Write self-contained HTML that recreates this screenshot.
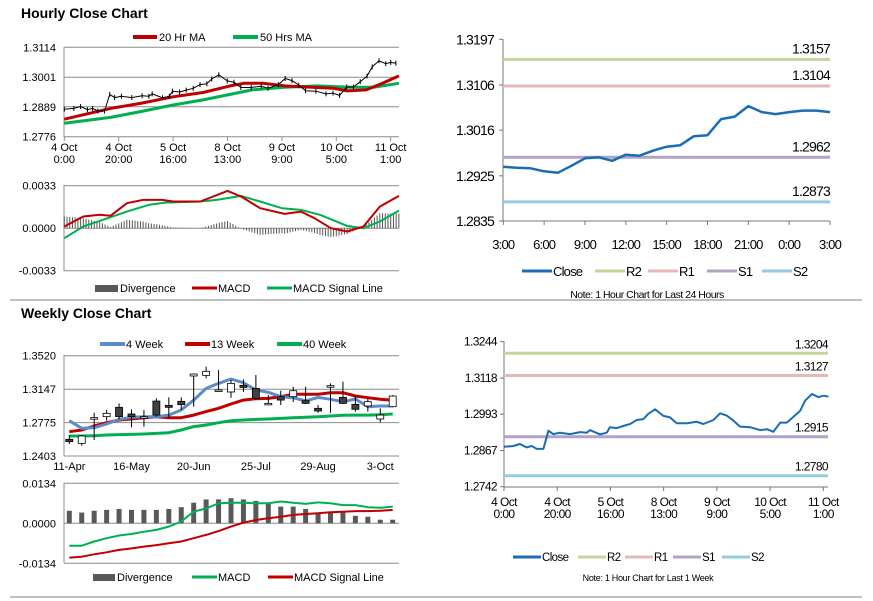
<!DOCTYPE html>
<html><head><meta charset="utf-8"><style>
html,body{margin:0;padding:0;background:#fff;width:873px;height:601px;overflow:hidden}
svg{display:block;font-family:"Liberation Sans",Arial,sans-serif}
</style></head><body>
<svg id="root" width="873" height="601" viewBox="0 0 873 601" xmlns="http://www.w3.org/2000/svg"></svg>
<script>
// ---------- DATA ----------
const weekHours=[0,3.5,6,8.5,10.4,12.3,14.8,16.7,18.5,21,24.8,28.6,31.1,32.3,36.1,38.6,39.8,42.4,44.8,47.4,49.9,52.4,54.2,56.8,59.9,62.4,64.9,68.7,72.4,74.9,78.7,81.2,83.7,86.2,88.7,92.5,96.2,98.8,101.2,103.8,106.3,108.8,111.3,113.2,115.7,118.2,120,121.9];
const weekClose=[1.2880,1.2883,1.2890,1.2878,1.2883,1.2873,1.2873,1.2936,1.2924,1.2929,1.2924,1.2931,1.2929,1.2938,1.2923,1.2929,1.2948,1.2945,1.2952,1.2959,1.2973,1.2976,1.2994,1.3010,1.2987,1.2982,1.2962,1.2962,1.2967,1.2959,1.2973,1.2996,1.2988,1.2971,1.2950,1.2948,1.2938,1.2941,1.2932,1.2964,1.2964,1.2984,1.3005,1.3040,1.3063,1.3052,1.3057,1.3054];
const ma20Hours=[0,17,28,40,51,61,66,73,81,87,99,104,111,117,123];
const ma20Vals=[1.2842,1.2883,1.2902,1.2927,1.2943,1.2968,1.2978,1.2978,1.2968,1.2965,1.2959,1.2949,1.2953,1.2978,1.3006];
const ma50Hours=[0,17,28,40,51,61,69,81,93,105,114,123];
const ma50Vals=[1.2827,1.2849,1.2871,1.2896,1.2915,1.2936,1.2953,1.2963,1.2968,1.2963,1.2963,1.2978];
const hMacdHours=[0,7,13,17,23,29,36,40,50,60,65,72,81,87,92,98,104,110,116,123];
const hMacdVals=[0.00013,0.00091,0.00104,0.00096,0.00194,0.0022,0.0022,0.00207,0.00207,0.0029,0.00246,0.00155,0.00111,0.00129,0.00078,0,-0.00026,0.00013,0.00168,0.00251];
const hSigHours=[0,7,13,23,31,37,50,56,65,72,80,87,94,104,110,116,123];
const hSigVals=[-0.00078,0.00013,0.00057,0.00129,0.00181,0.00199,0.00207,0.0022,0.00251,0.00207,0.00155,0.00142,0.00104,0.00018,0,0.00052,0.00137];
const hPriceTicks=[1.2776,1.2889,1.3001,1.3114];
const hMacdTicks=[-0.0033,0,0.0033];
const weekTickHours=[0,20,40,60,80,100,120];
const weekTickLabels=[["4 Oct","0:00"],["4 Oct","20:00"],["5 Oct","16:00"],["8 Oct","13:00"],["9 Oct","9:00"],["10 Oct","5:00"],["11 Oct","1:00"]];
const dayClose=[1.2943,1.2941,1.2940,1.2934,1.2931,1.2945,1.2960,1.2962,1.2955,1.2967,1.2965,1.2975,1.2983,1.2986,1.3004,1.3006,1.3038,1.3043,1.3064,1.3052,1.3048,1.3052,1.3055,1.3055,1.3052];
const dayTickLabels=["3:00","6:00","9:00","12:00","15:00","18:00","21:00","0:00","3:00"];
const dayPriceTicks=[1.2835,1.2925,1.3016,1.3106,1.3197];
const dayLevels=[1.3157,1.3104,1.2962,1.2873];
const weekLevels=[1.3204,1.3127,1.2915,1.2780];
const weekPriceTicks=[1.2742,1.2867,1.2993,1.3118,1.3244];
const wOpen=[1.2589,1.2544,1.2830,1.2841,1.2945,1.2871,1.2841,1.3015,1.2967,1.3012,1.3294,1.3301,1.3138,1.3116,1.3190,1.3156,1.2989,1.3064,1.3064,1.3019,1.2934,1.3186,1.3056,1.2978,1.2960,1.2815,1.2952];
const wClose=[1.2563,1.2626,1.2830,1.2878,1.2841,1.2841,1.2841,1.2859,1.2945,1.2975,1.3316,1.3346,1.3138,1.3212,1.3167,1.3045,1.2989,1.3026,1.3130,1.2989,1.2904,1.3186,1.2989,1.2923,1.3008,1.2859,1.3071];
const wHigh=[1.2637,1.2637,1.2885,1.2915,1.2989,1.2923,1.2915,1.3045,1.3056,1.3056,1.3323,1.3398,1.3360,1.3249,1.3257,1.3305,1.3082,1.3130,1.3175,1.3175,1.2971,1.3212,1.3231,1.3064,1.3045,1.2934,1.3082];
const wLow=[1.2537,1.2518,1.2581,1.2796,1.2811,1.2722,1.2730,1.2841,1.2822,1.2915,1.2952,1.3268,1.3119,1.3052,1.3116,1.3034,1.2971,1.2971,1.3004,1.2982,1.2885,1.2885,1.2982,1.2897,1.2897,1.2778,1.2945];
const ma4w=[1.2796,1.2711,1.2718,1.2759,1.2811,1.2834,1.2841,1.2841,1.2859,1.2915,1.3026,1.3156,1.3212,1.3260,1.3219,1.3138,1.3112,1.3064,1.3052,1.3015,1.3056,1.3034,1.3008,1.3038,1.2952,1.2960,1.2960];
const ma13w=[1.2674,1.2692,1.2737,1.2774,1.2804,1.2815,1.2830,1.2841,1.2830,1.2830,1.2859,1.2897,1.2934,1.2982,1.3026,1.3041,1.3045,1.3064,1.3090,1.3090,1.3090,1.3108,1.3108,1.3071,1.3052,1.3034,1.3026];
const ma40w=[1.2626,1.2626,1.2629,1.2637,1.2641,1.2644,1.2648,1.2655,1.2663,1.2692,1.2730,1.2748,1.2774,1.2796,1.2804,1.2811,1.2815,1.2822,1.2830,1.2834,1.2841,1.2848,1.2856,1.2859,1.2859,1.2863,1.2871];
const wDiv=[0.0042,0.0036,0.0042,0.0045,0.0048,0.0045,0.0045,0.0045,0.0048,0.0054,0.0069,0.0080,0.0080,0.0084,0.0080,0.0075,0.0065,0.0056,0.0056,0.0048,0.0036,0.0039,0.0036,0.0025,0.0022,0.0012,0.0012];
const wMacd=[-0.0075,-0.0075,-0.0061,-0.0050,-0.0041,-0.0036,-0.0028,-0.0022,-0.0011,0.0006,0.0039,0.0050,0.0067,0.0069,0.0069,0.0067,0.0067,0.0073,0.0069,0.0065,0.0070,0.0067,0.0061,0.0061,0.0054,0.0052,0.0056];
const wSig=[-0.0115,-0.0112,-0.0104,-0.0097,-0.0089,-0.0084,-0.0078,-0.0073,-0.0067,-0.0061,-0.0050,-0.0039,-0.0026,-0.0011,0.0002,0.0011,0.0017,0.0022,0.0028,0.0031,0.0034,0.0037,0.0039,0.0041,0.0041,0.0042,0.0045];
const wTickIdx=[0,5,10,15,20,25];
const wTickLabels=["11-Apr","16-May","20-Jun","25-Jul","29-Aug","3-Oct"];
const wPriceTicks=[1.2403,1.2775,1.3147,1.3520];
const wMacdTicks=[-0.0134,0,0.0134];

// ---------- HELPERS ----------
const NS="http://www.w3.org/2000/svg";
const root=document.getElementById('root');
function mk(tag,attrs,name,parent){
  const el=document.createElementNS(NS,tag);
  for(const k in attrs) el.setAttribute(k,attrs[k]);
  
  
  (parent||root).appendChild(el);
  return el;
}
function txt(x,y,s,name,opt){
  opt=opt||{};
  const t=mk('text',{x:x,y:y,'font-size':opt.size||11,'text-anchor':opt.anchor||'start',fill:opt.fill||'#000','font-weight':opt.weight||'normal','letter-spacing':opt.ls||0},name,opt.parent);
  t.textContent=s;return t;
}
function lin(d0,d1,r0,r1){return v=>r0+(v-d0)*(r1-r0)/(d1-d0);}
function interp(xs,ys,x){
  if(x<=xs[0])return ys[0];
  for(let i=1;i<xs.length;i++){if(x<=xs[i]){const t=(x-xs[i-1])/(xs[i]-xs[i-1]);return ys[i-1]+t*(ys[i]-ys[i-1]);}}
  return ys[ys.length-1];
}
function poly(xs,ys,fx,fy,color,w,name,g){
  const pts=xs.map((x,i)=>fx(x).toFixed(1)+','+fy(ys[i]).toFixed(1)).join(' ');
  return mk('polyline',{points:pts,fill:'none',stroke:color,'stroke-width':w,'stroke-linejoin':'round'},name,g);
}
function line(x1,y1,x2,y2,color,w,name,g){return mk('line',{x1:x1,y1:y1,x2:x2,y2:y2,stroke:color,'stroke-width':w},name,g);}
function fmt(v){return v.toFixed(4);}
const RED='#c00000',GREEN='#00b050',BLUE='#1a6db5',WBLUE='#5b8bc9',GRID='#8c8c8c';
const LVC=['#c3d69b','#e6b9b8','#b3a2c7','#93cddd'];

txt(21,18,'Hourly Close Chart','hourly-title',{size:14,weight:'bold'});
txt(21,318,'Weekly Close Chart','weekly-title',{size:14,weight:'bold'});
line(10,300,862,300,'#999',1.3,'section-separator');
line(10,597,862,597,'#999',1.3,'bottom-separator');

// PANEL 1
{
const g=mk('g',{},'hourly-price-chart');
const fx=lin(0,120,64.3,390.7), fy=lin(1.2776,1.3114,136.7,47.3);
hPriceTicks.forEach(t=>{
  line(64,fy(t),399,fy(t),GRID,1,'h-gridline',g);
  txt(56,fy(t)+4,fmt(t),'y-tick-label',{anchor:'end',parent:g});
});
line(64,47,64,137,GRID,1,'y-axis',g);
weekTickHours.forEach((h,i)=>{
  line(fx(h),137,fx(h),141,GRID,1,'x-tick',g);
  txt(fx(h),151,weekTickLabels[i][0],'x-tick-label',{anchor:'middle',parent:g});
  txt(fx(h),163,weekTickLabels[i][1],'x-tick-label',{anchor:'middle',parent:g});
});
poly(ma50Hours,ma50Vals,fx,fy,GREEN,3,'ma50-line',g);
poly(ma20Hours,ma20Vals,fx,fy,RED,3,'ma20-line',g);
poly(weekHours,weekClose,fx,fy,'#000',1,'price-bars',g);
weekHours.forEach((h,i)=>{line(fx(h),fy(weekClose[i])-2.5,fx(h),fy(weekClose[i])+2.5,'#000',1,'price-bar',g);});
line(133,37,157,37,RED,4,'legend-ma20-swatch',g);txt(159,41,'20 Hr MA','legend-ma20',{parent:g});
line(233,37,258,37,GREEN,4,'legend-ma50-swatch',g);txt(260,41,'50 Hrs MA','legend-ma50',{parent:g});
}
// PANEL 1b
{
const g=mk('g',{},'hourly-macd-chart');
const fx=lin(0,120,64.3,390.7), fy=lin(-0.0033,0.0033,270.7,185.7);
hMacdTicks.forEach(t=>{
  line(64,fy(t),399,fy(t),GRID,1,'h-gridline',g);
  txt(56,fy(t)+4,t.toFixed(4),'y-tick-label',{anchor:'end',parent:g});
});
line(64,185,64,271,GRID,1,'y-axis',g);
for(let h=0;h<=123;h+=1){
  const d=interp(hMacdHours,hMacdVals,h)-interp(hSigHours,hSigVals,h);
  line(fx(h),fy(0),fx(h),fy(d),'#555',1,'divergence-bar',g);
}
poly(hSigHours,hSigVals,fx,fy,GREEN,2,'macd-signal-line',g);
poly(hMacdHours,hMacdVals,fx,fy,RED,2,'macd-line',g);
mk('rect',{x:95,y:285,width:23,height:7,fill:'#595959'},'legend-divergence-swatch',g);txt(120,292,'Divergence','legend-divergence',{parent:g});
line(192,288,217,288,RED,3,'legend-macd-swatch',g);txt(218,292,'MACD','legend-macd',{parent:g});
line(267,288,292,288,GREEN,3,'legend-signal-swatch',g);txt(293,292,'MACD Signal Line','legend-signal',{parent:g});
}
// PANEL 2
{
const g=mk('g',{},'daily-levels-chart');
const fx=lin(0,24,503.3,830), fy=lin(1.2835,1.3197,221,39.3);
line(503,39,503,221,'#777',1,'y-axis',g);
line(503,221,830,221,'#777',1,'x-axis',g);
dayPriceTicks.forEach(t=>{
  line(499,fy(t),503,fy(t),'#777',1,'y-tick',g);
  txt(494,fy(t)+5,fmt(t),'y-tick-label',{anchor:'end',size:14,ls:-0.8,parent:g});
});
dayTickLabels.forEach((s,i)=>{
  const x=fx(i*3);
  line(x,221,x,225,'#777',1,'x-tick',g);
  txt(x,249,s,'x-tick-label',{anchor:'middle',size:13,ls:-0.8,parent:g});
});
const lvNames=['r2','r1','s1','s2'];
dayLevels.forEach((v,i)=>{
  line(503,fy(v),830,fy(v),LVC[i],3,'level-'+lvNames[i],g);
  txt(830,fy(v)-6,fmt(v),'level-label-'+lvNames[i],{anchor:'end',size:14,ls:-0.8,parent:g});
});
poly(dayClose.map((_,i)=>i),dayClose,fx,fy,BLUE,2.5,'close-line',g);
const leg=[['Close',522,BLUE],['R2',595,LVC[0]],['R1',648,LVC[1]],['S1',707,LVC[2]],['S2',762,LVC[3]]];
leg.forEach(l=>{line(l[1],271,l[1]+30,271,l[2],3,'legend-swatch',g);txt(l[1]+31,276,l[0],'legend-'+l[0].toLowerCase(),{size:13,ls:-0.8,parent:g});});
txt(647,298,'Note: 1 Hour Chart for Last 24 Hours','chart-note',{anchor:'middle',size:10.5,ls:-0.5,parent:g});
}
// PANEL 3
{
const g=mk('g',{},'weekly-price-chart');
const fx=lin(0,26,69.3,392.7), fy=lin(1.2403,1.3520,456,355.7);
wPriceTicks.forEach(t=>{
  line(64,fy(t),399,fy(t),GRID,1,'h-gridline',g);
  txt(56,fy(t)+4,fmt(t),'y-tick-label',{anchor:'end',parent:g});
});
line(64,355,64,456,GRID,1,'y-axis',g);
wTickIdx.forEach((w,i)=>{txt(fx(w),470,wTickLabels[i],'x-tick-label',{anchor:'middle',parent:g});});
poly(wOpen.map((_,i)=>i),ma40w,fx,fy,GREEN,3,'ma40w-line',g);
poly(wOpen.map((_,i)=>i),ma13w,fx,fy,RED,3,'ma13w-line',g);
poly(wOpen.map((_,i)=>i),ma4w,fx,fy,WBLUE,3,'ma4w-line',g);
wOpen.forEach((o,i)=>{
  const c=wClose[i],x=fx(i);
  line(x,fy(wHigh[i]),x,fy(wLow[i]),'#000',1,'candle-wick',g);
  const top=fy(Math.max(o,c)),bot=fy(Math.min(o,c));
  mk('rect',{x:x-3.5,y:top,width:7,height:Math.max(1.5,bot-top),fill:c<o?'#404040':'#fff',stroke:'#000','stroke-width':0.8},'candle',g);
});
line(100,344,125,344,WBLUE,4,'legend-4w-swatch',g);txt(126,348,'4 Week','legend-4w',{parent:g});
line(185,344,210,344,RED,4,'legend-13w-swatch',g);txt(211,348,'13 Week','legend-13w',{parent:g});
line(277,344,302,344,GREEN,4,'legend-40w-swatch',g);txt(303,348,'40 Week','legend-40w',{parent:g});
}
// PANEL 3b
{
const g=mk('g',{},'weekly-macd-chart');
const fx=lin(0,26,69.3,392.7), fy=lin(-0.0134,0.0134,563.3,483.3);
wMacdTicks.forEach(t=>{
  line(64,fy(t),399,fy(t),GRID,1,'h-gridline',g);
  txt(56,fy(t)+4,t.toFixed(4),'y-tick-label',{anchor:'end',parent:g});
});
line(64,483,64,563,GRID,1,'y-axis',g);
wDiv.forEach((d,i)=>{const y=fy(Math.max(d,0)),y0=fy(Math.min(d,0));mk('rect',{x:fx(i)-2.5,y:y,width:5,height:y0-y,fill:'#595959'},'divergence-bar',g);});
poly(wSig.map((_,i)=>i),wSig,fx,fy,RED,2,'signal-line',g);
poly(wMacd.map((_,i)=>i),wMacd,fx,fy,GREEN,2,'macd-line',g);
mk('rect',{x:93,y:574,width:22,height:7,fill:'#595959'},'legend-divergence-swatch',g);txt(117,581,'Divergence','legend-divergence',{parent:g});
line(192,577,217,577,GREEN,3,'legend-macd-swatch',g);txt(218,581,'MACD','legend-macd',{parent:g});
line(268,577,293,577,RED,3,'legend-signal-swatch',g);txt(294,581,'MACD Signal Line','legend-signal',{parent:g});
}
// PANEL 4
{
const g=mk('g',{},'weekly-levels-chart');
const fx=lin(0,120,504,823.3), fy=lin(1.2742,1.3244,486.7,341.7);
line(504,341,504,487,'#777',1,'y-axis',g);
line(504,487,828,487,'#777',1,'x-axis',g);
weekPriceTicks.forEach(t=>{
  line(500,fy(t),504,fy(t),'#777',1,'y-tick',g);
  txt(497,fy(t)+4,fmt(t),'y-tick-label',{anchor:'end',size:12,ls:-0.6,parent:g});
});
weekTickHours.forEach((h,i)=>{
  line(fx(h),487,fx(h),491,'#777',1,'x-tick',g);
  txt(fx(h),506,weekTickLabels[i][0],'x-tick-label',{anchor:'middle',size:12,ls:-0.6,parent:g});
  txt(fx(h),518,weekTickLabels[i][1],'x-tick-label',{anchor:'middle',size:12,ls:-0.6,parent:g});
});
const lvNames=['r2','r1','s1','s2'];
weekLevels.forEach((v,i)=>{
  line(504,fy(v),828,fy(v),LVC[i],3,'level-'+lvNames[i],g);
  txt(828,fy(v)-5,fmt(v),'level-label-'+lvNames[i],{anchor:'end',size:12,ls:-0.6,parent:g});
});
poly(weekHours,weekClose,fx,fy,BLUE,2,'close-line',g);
const leg=[['Close',513,BLUE],['R2',578,LVC[0]],['R1',625,LVC[1]],['S1',673,LVC[2]],['S2',722,LVC[3]]];
leg.forEach(l=>{line(l[1],557,l[1]+28,557,l[2],3,'legend-swatch',g);txt(l[1]+29,561,l[0],'legend-'+l[0].toLowerCase(),{size:11.5,ls:-0.6,parent:g});});
txt(648,581,'Note: 1 Hour Chart for  Last 1 Week','chart-note',{anchor:'middle',size:9,ls:-0.3,parent:g});
}
</script>
</body></html>
